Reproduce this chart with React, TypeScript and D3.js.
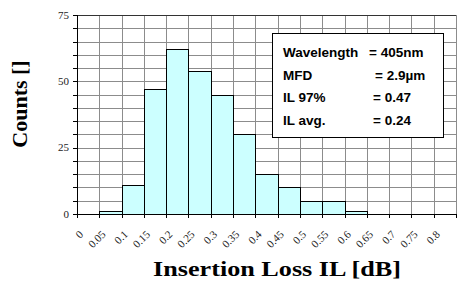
import React from 'react';
import * as d3 from 'd3';

// histogram bins (lower edge, dB) and counts
const binStarts = [0.05, 0.1, 0.15, 0.2, 0.25, 0.3, 0.35, 0.4, 0.45, 0.5, 0.55, 0.6];
const counts = [1, 11, 47, 62, 54, 45, 30, 15, 10, 5, 5, 1];
const binWidth = 0.05;

const xTickValues = [0, 0.05, 0.1, 0.15, 0.2, 0.25, 0.3, 0.35, 0.4, 0.45, 0.5, 0.55, 0.6, 0.65, 0.7, 0.75, 0.8];
const xTickLabels = ['0', '0.05', '0.1', '0.15', '0.2', '0.25', '0.3', '0.35', '0.4', '0.45', '0.5', '0.55', '0.6', '0.65', '0.7', '0.75', '0.8'];
const xGrid = [0, 0.05, 0.1, 0.15, 0.2, 0.25, 0.3, 0.35, 0.4, 0.45, 0.5, 0.55, 0.6, 0.65, 0.7, 0.75, 0.8, 0.85];
const yTickValues = [0, 25, 50, 75];
const yMinor = [0, 5, 10, 15, 20, 25, 30, 35, 40, 45, 50, 55, 60, 65, 70, 75];

const legendLabels = ['Wavelength', 'MFD', 'IL 97%', 'IL avg.'];
const legendValues = ['= 405nm', '= 2.9\u00b5m', '= 0.47', '= 0.24'];

const serif = '"Liberation Serif", "Times New Roman", serif';
const sans = '"Liberation Sans", Arial, sans-serif';

export default function App() {
  const width = 457;
  const height = 282;
  const x = d3.scaleLinear().domain([0, 0.85]).range([77, 456]);
  const y = d3.scaleLinear().domain([0, 75]).range([214, 15]);

  const legendX = [283, 369, 375, 373, 373];

  return (
    <svg width={width} height={height} style={{ position: 'absolute', left: 0, top: 0, background: '#fff' }}>
      {/* grid */}
      <g stroke="#8c8c8c" strokeWidth={1}>
        {yMinor.map(v => (
          <line key={'h' + v} x1={x(0)} x2={x(0.85)} y1={Math.round(y(v)) + 0.5} y2={Math.round(y(v)) + 0.5} />
        ))}
        {xGrid.map(v => (
          <line key={'v' + v} x1={Math.round(x(v)) + 0.5} x2={Math.round(x(v)) + 0.5} y1={y(75)} y2={y(0)} />
        ))}
      </g>

      {/* bars */}
      <g fill="#ccffff" stroke="#000" strokeWidth={1}>
        {binStarts.map((b, i) => (
          <rect key={b}
            x={Math.round(x(b)) + 0.5}
            y={Math.round(y(counts[i])) + 0.5}
            width={Math.round(x(b + binWidth)) - Math.round(x(b))}
            height={Math.round(y(0)) - Math.round(y(counts[i]))} />
        ))}
      </g>

      {/* axes */}
      <g stroke="#000" strokeWidth={1}>
        <line x1={x(0)} x2={x(0.85)} y1={Math.round(y(75)) + 0.5} y2={Math.round(y(75)) + 0.5} stroke="#333" />
        <line x1={Math.round(x(0)) + 0.5} x2={Math.round(x(0)) + 0.5} y1={y(75)} y2={y(0)} />
        <line x1={x(0)} x2={x(0.85)} y1={Math.round(y(0)) + 0.5} y2={Math.round(y(0)) + 0.5} />
        {yMinor.map(v => (
          <line key={'yt' + v} x1={x(0) - 4} x2={x(0)} y1={Math.round(y(v)) + 0.5} y2={Math.round(y(v)) + 0.5} />
        ))}
        {xGrid.map(v => (
          <line key={'xt' + v} x1={Math.round(x(v)) + 0.5} x2={Math.round(x(v)) + 0.5} y1={y(0)} y2={y(0) + 4} />
        ))}
      </g>

      {/* y tick labels */}
      <g fontFamily={serif} fontSize={11} fill="#222" textAnchor="end">
        {yTickValues.map(v => (
          <text key={v} x={69} y={y(v) + 3.5}>{v}</text>
        ))}
      </g>

      {/* x tick labels */}
      <g fontFamily={serif} fontSize={11} fill="#222" textAnchor="end">
        {xTickValues.map((v, i) => (
          <text key={v} transform={`translate(${x(v) + 7},235) rotate(-45)`}>{xTickLabels[i]}</text>
        ))}
      </g>

      {/* axis titles */}
      <text x={277} y={276} textAnchor="middle" fontFamily={serif} fontWeight="bold" fontSize={20}
        textLength={248} lengthAdjust="spacingAndGlyphs">Insertion Loss IL [dB]</text>
      <text transform="translate(27,104) rotate(-90)" textAnchor="middle" fontFamily={serif} fontWeight="bold"
        fontSize={22}>Counts []</text>

      {/* info box */}
      <rect x={272.5} y={33.5} width={171} height={104} fill="#fff" stroke="#000" strokeWidth={1} />
      <g fontFamily={sans} fontWeight="bold" fontSize={13.5} fill="#000">
        {legendLabels.map((l, i) => (
          <text key={l} x={legendX[0]} y={57 + i * 22.7}>{l}</text>
        ))}
        {legendValues.map((v, i) => (
          <text key={v} x={legendX[i + 1]} y={57 + i * 22.7}>{v}</text>
        ))}
      </g>
    </svg>
  );
}
